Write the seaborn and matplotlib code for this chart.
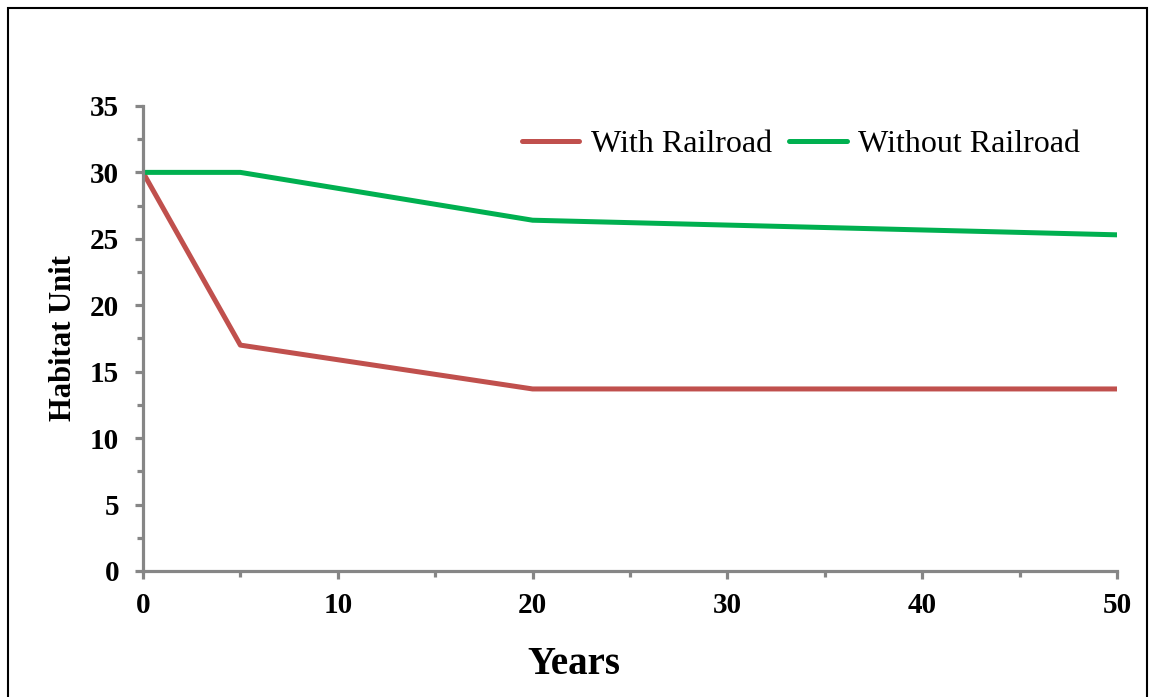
import pandas as pd
import matplotlib.pyplot as plt
import seaborn as sns
from matplotlib.patches import Rectangle
from matplotlib.ticker import MultipleLocator

# Data
years = [0, 5, 20, 50]
with_railroad = [30, 17, 13.7, 13.7]
without_railroad = [30, 30, 26.4, 25.3]

df = pd.DataFrame({
    'Years': years * 2,
    'Habitat Unit': with_railroad + without_railroad,
    'Scenario': ['With Railroad'] * len(years) + ['Without Railroad'] * len(years),
})

sns.set_style('white')
plt.rcParams['font.family'] = ['Liberation Serif', 'DejaVu Serif']
plt.rcParams['text.color'] = 'black'
plt.rcParams['axes.labelcolor'] = 'black'

fig = plt.figure(figsize=(11.5, 6.97), dpi=100)
ax = fig.add_axes([0.1243, 0.1808, 0.8470, 0.6672])

sns.lineplot(data=df, x='Years', y='Habitat Unit', hue='Scenario',
             palette=['#C0504D', '#00B050'], linewidth=3.6, ax=ax,
             legend=True)

ax.set_xlim(0, 50)
ax.set_ylim(0, 35)
ax.xaxis.set_major_locator(MultipleLocator(10))
ax.xaxis.set_minor_locator(MultipleLocator(5))
ax.yaxis.set_major_locator(MultipleLocator(5))
ax.yaxis.set_minor_locator(MultipleLocator(2.5))

for s in ['top', 'right']:
    ax.spines[s].set_visible(False)
for s in ['left', 'bottom']:
    ax.spines[s].set_color('#868686')
    ax.spines[s].set_linewidth(2.3)

ax.tick_params(axis='x', which='both', bottom=True)
ax.tick_params(axis='y', which='both', left=True)
ax.tick_params(axis='both', which='major', direction='out', length=6, width=2.3,
               color='#868686', labelcolor='black', labelsize=21)
ax.tick_params(axis='both', which='minor', direction='out', length=4, width=2.3,
               color='#868686')
ax.tick_params(axis='x', which='major', pad=9)
ax.tick_params(axis='y', which='major', pad=11)
for lab in ax.get_xticklabels() + ax.get_yticklabels():
    lab.set_fontweight('bold')

ax.set_xlabel('Years', fontsize=28, fontweight='bold')
ax.set_ylabel('Habitat Unit', fontsize=22, fontweight='bold')
ax.xaxis.set_label_coords(0.4425, -0.202)
ax.yaxis.set_label_coords(-0.082, 0.5)
ax.xaxis.label.set_va('center')
ax.yaxis.label.set_va('center')

leg = ax.legend(loc='center right', bbox_to_anchor=(0.962, 0.918), ncol=2,
                frameon=False, fontsize=23, handlelength=1.8, handletextpad=0.35,
                columnspacing=0.55, borderaxespad=0, borderpad=0)
for line in leg.get_lines():
    line.set_linewidth(3.6)
for t in leg.get_texts():
    t.set_color('black')

# outer border of the chart area
fig.patches.append(Rectangle((0.007, -0.05), 0.99, 1.039, transform=fig.transFigure,
                             fill=False, edgecolor='black', linewidth=1.5))

fig.savefig('out.png', dpi=100)
